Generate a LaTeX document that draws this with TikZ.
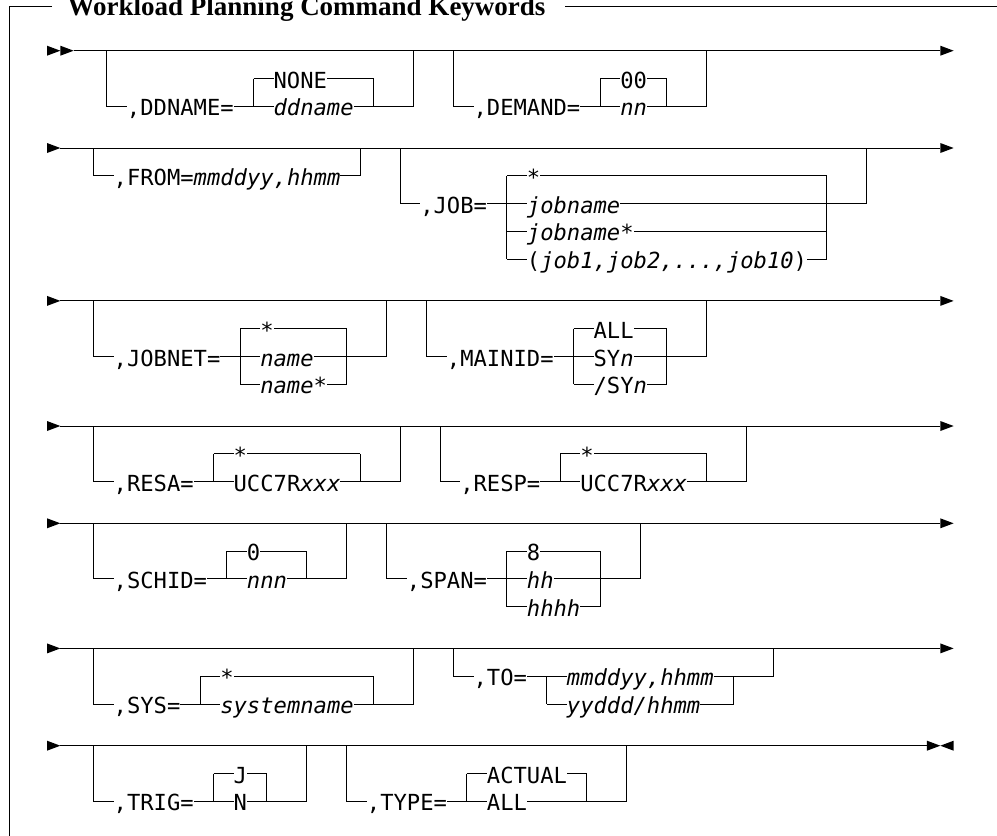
\documentclass[tikz,border=0pt]{standalone}
\usepackage{fontspec}
\newfontfamily\monofnt{DejaVu Sans Mono}
\newfontfamily\titlefnt{Liberation Serif}
\tikzset{
  ln/.style={line width=1pt},
  kw/.style={anchor=base west, inner sep=0pt, outer sep=0pt, fill=white,
    text height=16.5pt, text depth=5pt, yshift=-9.5pt,
    font=\monofnt\fontsize{22.15pt}{26pt}\selectfont},
}
% optional branch: vL vR main depth
\newcommand\optb[4]{\draw[ln] (#1,#3) -- (#1,#3+#4) -- (#2,#3+#4) -- (#2,#3);}
% choice stack: cL cR top last
\newcommand\chc[4]{%
  \draw[ln] (#1,#3) -- (#1,#4);
  \draw[ln] (#2,#3) -- (#2,#4);
  \foreach \lv in {#3,...,#4}{\draw[ln] (#1,\lv) -- (#2,\lv);}}
\newcommand\rtri[2]{\fill[shift={(#1,#2)}] (0pt,5pt) -- (13.333pt,0pt) -- (0pt,-5pt) -- cycle;}
\newcommand\ltri[2]{\fill[shift={(#1,#2)}] (13.333pt,5pt) -- (0pt,0pt) -- (13.333pt,-5pt) -- cycle;}
\begin{document}
\begin{tikzpicture}[x=1pt,y=1pt]
\useasboundingbox (0,0) rectangle (997,-836);
% frame and title
\draw[ln] (52,-6.5) -- (9,-6.5) -- (9,-840);
\draw[ln] (565,-6.5) -- (1000,-6.5);
\node[anchor=base west, inner sep=0pt, font=\titlefnt\bfseries\fontsize{27pt}{30pt}\selectfont] (title) at (67.5,-15) {Workload Planning Command Keywords};
\begin{scope}[shift={(47pt,-50.7pt)}, x=13.333pt, y=-27.8pt]
% ---------- row 1 ----------
\rtri{0}{0}\rtri{1}{0}
\draw[ln] (2,0) -- (67,0); \rtri{67}{0}
\optb{4.5}{27.5}{0}{2} \chc{15.5}{24.5}{1}{2}
\optb{30.5}{49.5}{0}{2} \chc{41.5}{46.5}{1}{2}
% ---------- row 2 ----------
\rtri{0}{3.5}
\draw[ln] (1,3.5) -- (67,3.5); \rtri{67}{3.5}
\optb{3.5}{23.5}{3.5}{1}
\optb{26.5}{61.5}{3.5}{2} \chc{34.5}{58.5}{4.5}{7.5}
% ---------- row 3 ----------
\rtri{0}{9}
\draw[ln] (1,9) -- (67,9); \rtri{67}{9}
\optb{3.5}{25.5}{9}{2} \chc{14.5}{22.5}{10}{12}
\optb{28.5}{49.5}{9}{2} \chc{39.5}{46.5}{10}{12}
% ---------- row 4 ----------
\rtri{0}{13.5}
\draw[ln] (1,13.5) -- (67,13.5); \rtri{67}{13.5}
\optb{3.5}{26.5}{13.5}{2} \chc{12.5}{23.5}{14.5}{15.5}
\optb{29.5}{52.5}{13.5}{2} \chc{38.5}{49.5}{14.5}{15.5}
% ---------- row 5 ----------
\rtri{0}{17}
\draw[ln] (1,17) -- (67,17); \rtri{67}{17}
\optb{3.5}{22.5}{17}{2} \chc{13.5}{19.5}{18}{19}
\optb{25.5}{44.5}{17}{2} \chc{34.5}{41.5}{18}{20}
% ---------- row 6 ----------
\rtri{0}{21.5}
\draw[ln] (1,21.5) -- (67,21.5); \rtri{67}{21.5}
\optb{3.5}{27.5}{21.5}{2} \chc{11.5}{24.5}{22.5}{23.5}
\optb{30.5}{54.5}{21.5}{1} \chc{37.5}{51.5}{22.5}{23.5}
% ---------- row 7 ----------
\rtri{0}{25}
\draw[ln] (1,25) -- (66,25); \rtri{66}{25}\ltri{67}{25}
\optb{3.5}{19.5}{25}{2} \chc{12.5}{16.5}{26}{27}
\optb{22.5}{43.5}{25}{2} \chc{31.5}{40.5}{26}{27}
% ---------- texts ----------
\node[kw] (ddn) at (6,2) {,DDNAME=};
\node[kw] (ddn1) at (17,1) {NONE};
\node[kw] (ddn2) at (17,2) {\textit{ddname}};
\node[kw] (dem) at (32,2) {,DEMAND=};
\node[kw] (dem1) at (43,1) {00};
\node[kw] (dem2) at (43,2) {\textit{nn}};
\node[kw] (from) at (5,4.5) {,FROM=\textit{mmddyy,hhmm}};
\node[kw] (job) at (28,5.5) {,JOB=};
\node[kw] (job1) at (36,4.5) {*};
\node[kw] (job2) at (36,5.5) {\textit{jobname}};
\node[kw] (job3) at (36,6.5) {\textit{jobname*}};
\node[kw] (job4) at (36,7.5) {(\textit{job1,job2,...,job10})};
\node[kw] (jn) at (5,11) {,JOBNET=};
\node[kw] (jn1) at (16,10) {*};
\node[kw] (jn2) at (16,11) {\textit{name}};
\node[kw] (jn3) at (16,12) {\textit{name*}};
\node[kw] (mi) at (30,11) {,MAINID=};
\node[kw] (mi1) at (41,10) {ALL};
\node[kw] (mi2) at (41,11) {SY\textit{n}};
\node[kw] (mi3) at (41,12) {/SY\textit{n}};
\node[kw] (ra) at (5,15.5) {,RESA=};
\node[kw] (ra1) at (14,14.5) {*};
\node[kw] (ra2) at (14,15.5) {UCC7R\textit{xxx}};
\node[kw] (rp) at (31,15.5) {,RESP=};
\node[kw] (rp1) at (40,14.5) {*};
\node[kw] (rp2) at (40,15.5) {UCC7R\textit{xxx}};
\node[kw] (sc) at (5,19) {,SCHID=};
\node[kw] (sc1) at (15,18) {0};
\node[kw] (sc2) at (15,19) {\textit{nnn}};
\node[kw] (sp) at (27,19) {,SPAN=};
\node[kw] (sp1) at (36,18) {8};
\node[kw] (sp2) at (36,19) {\textit{hh}};
\node[kw] (sp3) at (36,20) {\textit{hhhh}};
\node[kw] (sy) at (5,23.5) {,SYS=};
\node[kw] (sy1) at (13,22.5) {*};
\node[kw] (sy2) at (13,23.5) {\textit{systemname}};
\node[kw] (to) at (32,22.5) {,TO=};
\node[kw] (to1) at (39,22.5) {\textit{mmddyy,hhmm}};
\node[kw] (to2) at (39,23.5) {\textit{yyddd/hhmm}};
\node[kw] (tr) at (5,27) {,TRIG=};
\node[kw] (tr1) at (14,26) {J};
\node[kw] (tr2) at (14,27) {N};
\node[kw] (ty) at (24,27) {,TYPE=};
\node[kw] (ty1) at (33,26) {ACTUAL};
\node[kw] (ty2) at (33,27) {ALL};
\end{scope}
\end{tikzpicture}
\end{document}
